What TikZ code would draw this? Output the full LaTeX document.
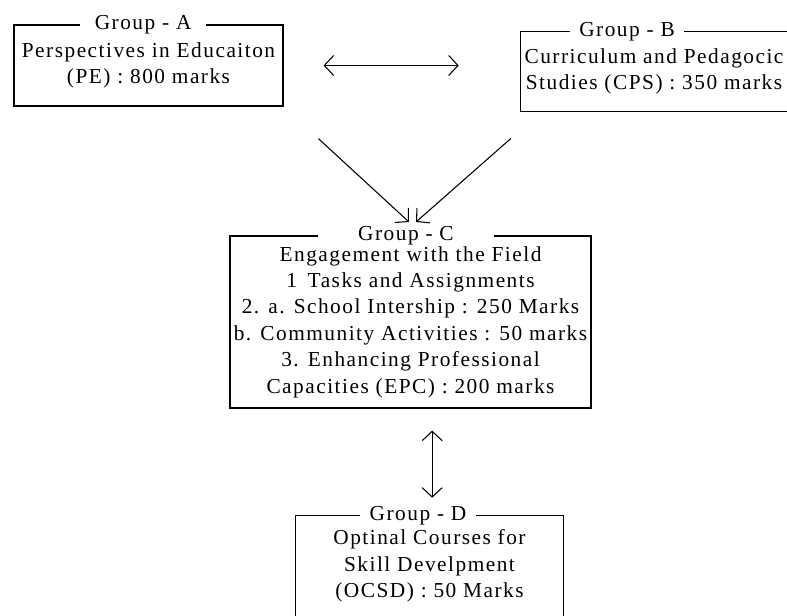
\documentclass[tikz,border=0pt]{standalone}
\usepackage{fontspec}
\setmainfont{Liberation Serif}[LetterSpace=7]
\usepackage{tikz}
\usetikzlibrary{arrows.meta,positioning}
\newcommand{\grpfont}{\fontsize{16}{19.8}\selectfont}
\tikzset{
    %Define standard arrow tip
    >={Straight Barb[length=7pt,width=15pt]},
    %Define style for group boxes
    grpbox/.style={
           rectangle,
           draw=black, line width=0.9pt,
           inner sep=1pt,
           font=\grpfont,
           align=center},
    grptext/.style={
           rectangle,
           inner sep=1pt,
           font=\grpfont,
           align=center},
    grptitle/.style={
           rectangle,
           fill=white,
           inner ysep=0pt,
           inner xsep=9pt,
           font=\grpfont},
    % Define arrow styles
    dbl/.style={
           <->,
           line width=0.8pt},
    feed/.style={
           ->,
           line width=0.8pt}
}
\begin{document}
\begin{tikzpicture}[x=0.75pt,y=-0.75pt]
\useasboundingbox (0,0) rectangle (787,616);
\node[grpbox, minimum width=201.75pt, minimum height=60.75pt] (grpA) at (148.5,65.5)
    {Perspectives in Educaiton\\(PE) : 800 marks};
\node[grptext, minimum width=199.5pt, minimum height=59.25pt] (grpB) at (654,71.5)
    {Curriculum and Pedagocic\\Studies (CPS) : 350 marks};
\node[grpbox, minimum width=270.75pt, minimum height=129pt] (grpC) at (410.5,322)
    {Engagement with the Field\\1\enspace Tasks and Assignments\\2. a. School Intership : 250 Marks\\b. Community Activities : 50 marks\\3. Enhancing Professional\\Capacities (EPC) : 200 marks};
\node[grptext, minimum width=200.25pt, minimum height=75pt] (grpD) at (429.5,566)
    {Optinal Courses for\\Skill Develpment\\(OCSD) : 50 Marks};
% open borders of the cut boxes
\draw[line width=0.9pt] (grpB.north east) -- (grpB.north west) -- (grpB.south west) -- (grpB.south east);
\draw[line width=0.9pt] (grpD.south west) -- (grpD.north west) -- (grpD.north east) -- (grpD.south east);
% titles on the borders
\node[grptitle, inner xsep=11pt] (tA) at ([xshift=-4pt]grpA.north) {Group - A};
\node[grptitle, inner xsep=7pt] (tB) at ([xshift=-20.25pt]grpB.north) {Group - B};
\node[grptitle, inner xsep=30pt] (tC) at ([xshift=-3.4pt]grpC.north) {Group - C};
\node[grptitle, inner xsep=7pt] (tD) at ([xshift=-8.6pt]grpD.north) {Group - D};
% connectors
\coordinate (inA) at (409,222);
\coordinate (inB) at (416,222);
\draw[dbl, shorten <=30pt, shorten >=46.5pt] (grpA.east) -- (grpA.east -| grpB.west);
\draw[feed, shorten <=35.5pt] (grpA.south east) -- (inA);
\draw[feed, shorten <=30.7pt] ([xshift=15.75pt]grpB.south west) -- (inB);
\draw[dbl, shorten <=16.5pt, shorten >=13.5pt] ([xshift=2pt]grpC.south -| grpD.north) -- ([xshift=2pt]grpD.north);
\end{tikzpicture}
\end{document}
